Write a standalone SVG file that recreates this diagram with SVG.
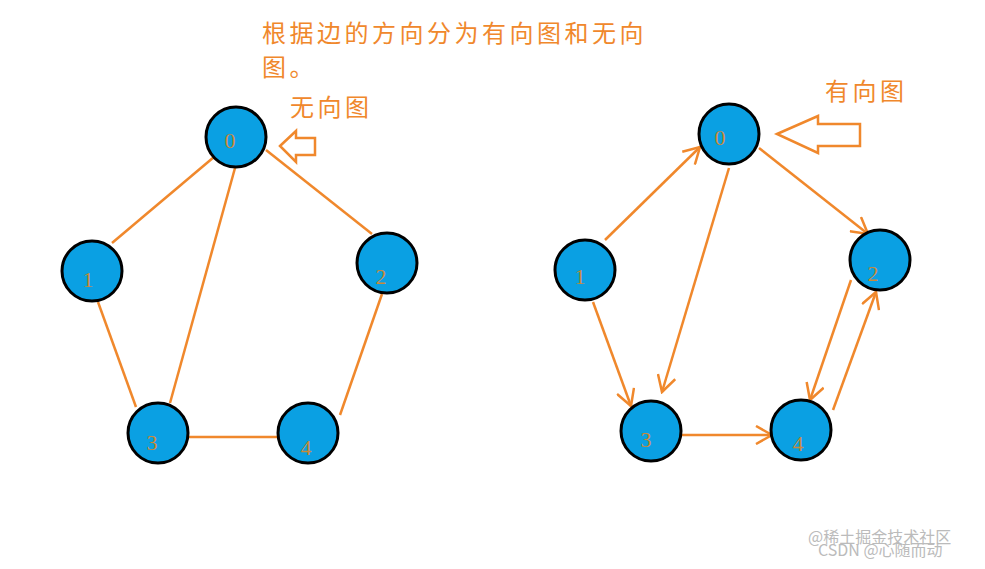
<svg xmlns="http://www.w3.org/2000/svg" width="985" height="569" viewBox="0 0 985 569">
<style>
.n{fill:#0aa0e3;stroke:#000;stroke-width:3}
.l{font-family:"Liberation Serif",serif;font-size:22px;fill:#c98a3a;text-anchor:middle}
.e{stroke:#f0882c;stroke-width:2.5;fill:none}
.t{font-family:"Noto Sans CJK SC",sans-serif;font-size:24px;fill:#f0882c;letter-spacing:3.5px}
.w{font-family:"Noto Sans CJK SC",sans-serif;font-size:16px;fill:#bbb}
</style>
<defs>
<marker id="a" viewBox="0 0 20 20" refX="18" refY="10" markerWidth="20" markerHeight="20" markerUnits="userSpaceOnUse" orient="auto">
<path d="M2,1 L18,10 L2,19" fill="none" stroke="#f0882c" stroke-width="2.5"/>
</marker>
</defs>
<rect width="985" height="569" fill="#fff"/>
<text class="t" x="262" y="42">根据边的方向分为有向图和无向</text>
<text class="t" x="262" y="76">图。</text>
<text class="t" x="290" y="116">无向图</text>
<text class="t" x="825" y="100">有向图</text>
<path class="e" d="M280,146 L296,131 L296,138 L315,138 L315,155 L296,155 L296,162 Z"/>
<path class="e" d="M777,134 L818,116 L818,124 L860,124 L860,146 L818,146 L818,153 Z"/>
<g id="connectors">
<line class="e" x1="214" y1="157" x2="112" y2="243"/>
<line class="e" x1="266" y1="150" x2="372" y2="234"/>
<line class="e" x1="235" y1="168" x2="170" y2="403"/>
<line class="e" x1="98" y1="302" x2="136" y2="407"/>
<line class="e" x1="382" y1="294" x2="340" y2="415"/>
<line class="e" x1="188" y1="437" x2="278" y2="437"/>
<line class="e" x1="605" y1="240" x2="700" y2="147" marker-end="url(#a)"/>
<line class="e" x1="729" y1="168" x2="662" y2="392" marker-end="url(#a)"/>
<line class="e" x1="759" y1="148" x2="868" y2="234" marker-end="url(#a)"/>
<line class="e" x1="593" y1="302" x2="631" y2="406" marker-end="url(#a)"/>
<line class="e" x1="682" y1="435" x2="772" y2="435" marker-end="url(#a)"/>
<line class="e" x1="851" y1="280" x2="810" y2="400" marker-end="url(#a)"/>
<line class="e" x1="833" y1="410" x2="876" y2="292" marker-end="url(#a)"/>
</g>
<g id="L0"><circle class="n" cx="236" cy="137" r="30"/><text class="l" x="230" y="148">0</text></g>
<g id="L1"><circle class="n" cx="92" cy="271" r="30"/><text class="l" x="88" y="287">1</text></g>
<g id="L2"><circle class="n" cx="387" cy="263" r="30"/><text class="l" x="381" y="284">2</text></g>
<g id="L3"><circle class="n" cx="158" cy="433" r="30"/><text class="l" x="152" y="450">3</text></g>
<g id="L4"><circle class="n" cx="308" cy="433" r="30"/><text class="l" x="306" y="455">4</text></g>
<g id="R0"><circle class="n" cx="729" cy="134" r="30"/><text class="l" x="720" y="145">0</text></g>
<g id="R1"><circle class="n" cx="585" cy="270" r="30"/><text class="l" x="580" y="284">1</text></g>
<g id="R2"><circle class="n" cx="880" cy="260" r="30"/><text class="l" x="873" y="281">2</text></g>
<g id="R3"><circle class="n" cx="651" cy="431" r="30"/><text class="l" x="646" y="447">3</text></g>
<g id="R4"><circle class="n" cx="801" cy="430" r="30"/><text class="l" x="798" y="451">4</text></g>
<text class="w" x="808" y="543">@稀土掘金技术社区</text>
<text class="w" x="818" y="556">CSDN @心随而动</text>
</svg>
